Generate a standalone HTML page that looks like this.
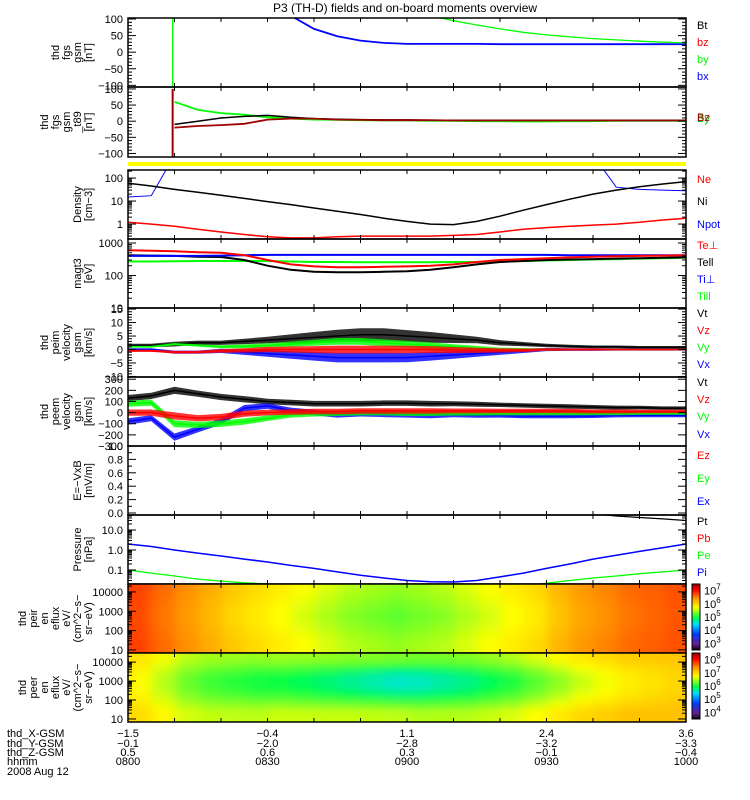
<!DOCTYPE html>
<html><head><meta charset="utf-8"><style>
body{margin:0;background:#fff}
svg{display:block;font-family:"Liberation Sans",sans-serif}
text{font-size:11px}
</style></head><body>
<svg id="c" width="750" height="800" viewBox="0 0 750 800" xmlns="http://www.w3.org/2000/svg">
<text x="405" y="12" text-anchor="middle" style="font-size:12px">P3 (TH-D) fields and on-board moments overview</text>
</svg>
<script>
// ---- data (time in minutes after 0800, step 5 min) ----
const T=[0,5,10,15,20,25,30,35,40,45,50,55,60,65,70,75,80,85,90,95,100,105,110,115,120];
const fgsBx=[null,null,null,null,null,null,null,110,70,48,35,28,25,25,25,25,24,24,24,24,24,24,24,24,24];
const fgsBy=[null,null,300,300,300,300,300,300,300,300,300,300,300,110,95,82,70,60,52,46,41,37,33,30,28];
const spikeT=[9.6];
const fglBy=[null,null,60,35,25,20,12,8,5,4,3,2,2,1,1,0,0,-1,-1,0,0,1,1,1,1];
const fglBz=[null,null,-20,-15,-12,-8,5,8,8,5,4,3,3,3,2,2,2,2,2,2,2,2,2,2,2];
const fglBt=[null,null,-10,0,10,15,18,12,8,6,5,4,4,3,3,3,3,3,3,3,3,3,3,3,3];
const densNi=[60,45,32,24,18,13,9.5,7,5,3.6,2.6,1.8,1.3,1.0,0.95,1.3,2.2,4,7,12,20,30,42,55,70];
const densNe=[1.2,1.0,0.8,0.6,0.45,0.35,0.28,0.25,0.25,0.28,0.3,0.3,0.3,0.3,0.32,0.35,0.45,0.6,0.7,0.8,0.9,1.0,1.2,1.5,1.8];
const densNpot=[15,17,999,999,999,999,999,999,999,999,999,999,999,999,999,999,999,999,999,999,999,40,32,30,28];
const tempTeperp=[600,580,560,520,500,420,300,220,190,180,180,185,190,200,220,260,300,320,340,360,380,390,400,410,420];
const tempTepar=[420,410,400,380,370,300,200,150,130,125,125,130,135,150,180,220,260,280,300,310,320,330,340,350,360];
const tempTiperp=[400,400,400,400,410,420,430,430,430,430,430,430,430,430,430,430,430,430,430,420,420,420,420,420,420];
const tempTipar=[270,270,275,280,280,280,280,270,260,260,255,255,255,255,260,260,270,280,290,300,310,320,330,340,350];
const esaVt=[1.5,1.5,2,2.5,2.5,3,3.5,4,4.5,5,5.5,5.5,5,4.5,4,3.5,2.5,2,1.5,1.2,1,1,0.8,0.8,0.8];
const esaVtAmp=[0.6,0.6,0.9,0.8,0.8,1,1.2,1.6,2,2.3,2.4,2.4,2.2,2,1.6,1.2,1,0.8,0.6,0.6,0.5,0.5,0.5,0.5,0.5];
const esaVy=[1,1,2,1.5,1,1.2,1.5,2,2.5,3,3,2.5,2,1.5,1,0.5,0,0,0,0,0,0,0,0,0];
const esaVz=[-0.5,-0.5,-1,-1,-0.5,-0.3,0,0,0,0,0,0,0,0,-0.2,-0.3,-0.3,-0.3,0,0,0,0,0,0,0];
const esaVx=[0,0,-1,-1,-0.5,-1,-1.5,-2,-2.5,-3,-3,-3,-3,-2.5,-2,-1.5,-1,-0.5,0,0,0,0,0,0,0];
const esaAmp=[0.5,0.5,0.6,0.6,0.8,1,1.2,1.4,1.6,1.8,1.8,1.8,1.7,1.6,1.4,1.2,1,0.8,0.6,0.5,0.5,0.4,0.4,0.4,0.4];
const peemVt=[130,150,200,170,140,120,100,90,80,80,80,85,85,80,80,75,70,65,60,55,50,45,45,40,40];
const peemVz=[0,0,-30,-50,-40,-10,0,5,10,10,15,15,15,15,15,15,15,15,15,15,10,10,10,10,10];
const peemVy=[80,90,-100,-110,-100,-80,-50,-20,-10,-5,0,0,-5,-5,-5,-5,-5,-5,-5,-5,-5,-5,-5,-5,-5];
const peemVx=[-80,-50,-220,-150,-80,40,60,20,0,-20,-10,-15,-20,-25,-20,-25,-25,-30,-30,-30,-30,-25,-25,-25,-25];
const peemAmp=[28,28,32,28,28,28,25,25,25,25,25,25,25,25,22,22,20,20,20,20,18,18,16,16,16];
const presPi=[2,1.5,1.0,0.7,0.5,0.35,0.25,0.17,0.12,0.08,0.055,0.04,0.03,0.026,0.025,0.03,0.045,0.07,0.12,0.2,0.35,0.55,0.85,1.3,2];
const presPe=[0.1,0.07,0.05,0.035,0.028,0.023,0.02,0.015,0.012,0.01,0.01,0.01,0.01,0.01,0.01,0.01,0.012,0.016,0.022,0.03,0.04,0.05,0.065,0.08,0.1];
const presPt=[null,null,null,null,null,null,null,null,null,null,null,null,null,null,null,null,null,null,null,80,65,50,42,36,30];
const ionBase=[6.75,6.7,6.55,6.4,6.25,6.1,6.0,5.9,5.8,5.7,5.6,5.55,5.5,5.55,5.6,5.7,5.8,5.9,6.0,6.2,6.35,6.45,6.55,6.6,6.65];
const ionRowAdj=[0.05,0,-0.05,-0.1,-0.1,-0.05,0,0.05];
const eleBase=[7.0,6.9,6.7,6.5,6.4,6.35,6.3,6.3,6.25,6.2,6.15,6.1,6.05,6.05,6.1,6.15,6.25,6.35,6.5,6.65,6.8,6.9,7.0,7.05,7.1];
const eleRowAdj=[0.6,0.3,0,-0.2,-0.3,-0.2,0.1,0.4];
const rowsLogE=[1.2,1.6,2.0,2.4,2.8,3.2,3.6,4.0,4.4];
const posX=["-1.5","-0.4","1.1","2.4","3.6"];
const posY=["-0.1","-2.0","-2.8","-3.2","-3.3"];
const posZ=["0.5","0.6","0.3","-0.1","-0.4"];
const hhmm=["0800","0830","0900","0930","1000"];

const NS="http://www.w3.org/2000/svg";
const svg=document.getElementById('c');
const X0=128,X1=686;
const xs=t=>X0+(X1-X0)*t/120;
function el(tag,attrs,parent){const e=document.createElementNS(NS,tag);for(const k in attrs)e.setAttribute(k,attrs[k]);(parent||svg).appendChild(e);return e;}
function lin(top,bot,vTop,vBot){return v=>top+(v-vTop)/(vBot-vTop)*(bot-top);}
function logs(top,bot,lTop,lBot){return v=>top+(Math.log10(v)-lTop)/(lBot-lTop)*(bot-top);}
let clipId=0;
function panel(name,top,bot){
  const g=el('g',{});
  
  
  const id='cp'+(clipId++);
  const cp=el('clipPath',{id:id},g);el('rect',{x:X0,y:top,width:X1-X0,height:bot-top},cp);
  const inner=el('g',{'clip-path':'url(#'+id+')'},g);
  return {g,inner,top,bot};
}
function frame(p){
  el('rect',{x:X0,y:p.top,width:X1-X0,height:p.bot-p.top,fill:'none',stroke:'#000','stroke-width':1.5},p.g);
  for(let t=10;t<120;t+=10){const x=xs(t);
    el('line',{x1:x,x2:x,y1:p.top,y2:p.top+4,stroke:'#000'},p.g);
    el('line',{x1:x,x2:x,y1:p.bot,y2:p.bot-4,stroke:'#000'},p.g);}
}
function yTicks(p,ys,labels,vals,minor){
  vals.forEach((v,i)=>{const y=ys(v);
    el('line',{x1:X0,x2:X0+8,y1:y,y2:y,stroke:'#000'},p.g);
    el('line',{x1:X1,x2:X1-8,y1:y,y2:y,stroke:'#000'},p.g);
    const t=el('text',{x:X0-5,y:y+4,'text-anchor':'end'},p.g);t.textContent=labels[i];
    
    });
  (minor||[]).forEach(v=>{const y=ys(v);
    el('line',{x1:X0,x2:X0+4,y1:y,y2:y,stroke:'#000'},p.g);
    el('line',{x1:X1,x2:X1-4,y1:y,y2:y,stroke:'#000'},p.g);});
}
function logMinor(a,b){const r=[];for(let d=a;d<b;d++)for(let k=2;k<10;k++)r.push(k*Math.pow(10,d));return r;}
function ylabel(p,lines){
  const cy=(p.top+p.bot)/2;const n=lines.length;
  lines.forEach((s,i)=>{const x=92-(n-1-i)*11;
    const t=el('text',{x:x,y:cy,'text-anchor':'middle',transform:'rotate(-90 '+x+' '+cy+')'},p.g);t.textContent=s;
    
    });
}
function legend(items){items.forEach(([s,c,y])=>{const t=el('text',{x:697,y:y,fill:c});t.textContent=s;
  
  });}
function line(p,ys,vals,color,w){
  let segs=[],cur=[];
  vals.forEach((v,i)=>{if(v===null){if(cur.length)segs.push(cur);cur=[];}else cur.push(xs(T[i]).toFixed(1)+','+ys(v).toFixed(1));});
  if(cur.length)segs.push(cur);
  segs.forEach(s=>{const e=el('polyline',{points:s.join(' '),fill:'none',stroke:color,'stroke-width':w||1.3},p.inner);
    
    });
}
function band(p,ys,vals,amp,color){
  const up=vals.map((v,i)=>xs(T[i]).toFixed(1)+','+ys(v+amp[i]).toFixed(1));
  const dn=vals.map((v,i)=>xs(T[i]).toFixed(1)+','+ys(v-amp[i]).toFixed(1)).reverse();
  const e=el('polygon',{points:up.concat(dn).join(' '),fill:color,'fill-opacity':0.8},p.inner);
  
  
  line(p,ys,vals,color,1.5);
}
// panel 1 fgs
let p=panel('fgs-panel',18,87);let ys=lin(18,87,103,-105);
line(p,ys,fgsBx,'#0000ff',1.8);line(p,ys,fgsBy,'#00ff00',1.3);
spikeT.forEach(t=>el('line',{x1:xs(t),x2:xs(t),y1:87,y2:18,stroke:'#00ff00','stroke-width':1.3},p.inner));
frame(p);yTicks(p,ys,['100','50','0','\u221250','\u2212100'],[100,50,0,-50,-100],[90,80,70,60,40,30,20,10,-10,-20,-30,-40,-60,-70,-80,-90]);
ylabel(p,['thd','fgs','gsm','[nT]']);
legend([['Bt','#000',29],['bz','#ff0000',46],['by','#00ff00',63],['bx','#0000ff',80]]);
// panel 2 fgl
p=panel('fgl-panel',87,157);ys=lin(87,157,106,-111);
line(p,ys,fglBy,'#00ff00',1.8);line(p,ys,fglBt,'#000',1.5);line(p,ys,fglBz,'#a00000',1.8);
spikeT.forEach(t=>el('line',{x1:xs(t),x2:xs(t),y1:ys(100),y2:ys(-110),stroke:'#a00000','stroke-width':2},p.inner));
frame(p);yTicks(p,ys,['100','50','0','\u221250','\u2212100'],[100,50,0,-50,-100],[90,80,70,60,40,30,20,10,-10,-20,-30,-40,-60,-70,-80,-90]);
ylabel(p,['thd','fgs','gsm','_t89','[nT]']);
legend([['By','#00c000',122],['Bz','#a00000',121]]);
// yellow bar
const yb=el('rect',{x:X0,y:162,width:X1-X0,height:4,fill:'#ffff00'});

// density
p=panel('density-panel',170,239);ys=logs(170,239,2.35,-0.65);
line(p,ys,densNpot,'#0000ff',1);line(p,ys,densNi,'#000',1.5);line(p,ys,densNe,'#ff0000',1.5);
frame(p);yTicks(p,ys,['100','10','1'],[100,10,1],logMinor(-1,3).filter(v=>v<220&&v>0.22));
ylabel(p,['Density','[cm\u22123]']);
legend([['Ne','#ff0000',183],['Ni','#000',205],['Npot','#0000ff',228]]);
// temps
p=panel('temperature-panel',239,308);ys=logs(239,308,3.123,1.0);
line(p,ys,tempTipar,'#00ff00',2);line(p,ys,tempTepar,'#000',2);line(p,ys,tempTiperp,'#0000ff',2);line(p,ys,tempTeperp,'#ff0000',2);
frame(p);yTicks(p,ys,['1000','100','10'],[1000,100,10],logMinor(1,4).filter(v=>v<1320));
ylabel(p,['magt3','[eV]']);
legend([['Te\u22a5','#ff0000',249],['Tell','#000',266],['Ti\u22a5','#0000ff',283],['Till','#00ff00',300]]);
// velocity esa
p=panel('peim-velocity-panel',308,377);ys=lin(308,377,15.4,-10.2);
band(p,ys,esaVt,esaVtAmp,'#000');band(p,ys,esaVx,esaAmp,'#0000ff');band(p,ys,esaVy,esaAmp.map(a=>a*0.7),'#00ff00');band(p,ys,esaVz,esaAmp.map(a=>a*0.8),'#ff0000');
frame(p);yTicks(p,ys,['15','10','5','0','\u22125','\u221210'],[15,10,5,0,-5,-10],[14,13,12,11,9,8,7,6,4,3,2,1,-1,-2,-3,-4,-6,-7,-8,-9]);
ylabel(p,['thd','peim','velocity','gsm','[km/s]']);
legend([['Vt','#000',317],['Vz','#ff0000',334],['Vy','#00ff00',351],['Vx','#0000ff',368]]);
// velocity peem
p=panel('peem-velocity-panel',377,446);ys=lin(377,446,320,-300);
band(p,ys,peemVt,peemAmp,'#000');band(p,ys,peemVx,peemAmp,'#0000ff');band(p,ys,peemVy,peemAmp,'#00ff00');band(p,ys,peemVz,peemAmp,'#ff0000');
frame(p);yTicks(p,ys,['300','200','100','0','\u2212100','\u2212200','\u2212300'],[300,200,100,0,-100,-200,-300],[]);
ylabel(p,['thd','peem','velocity','gsm','[km/s]']);
legend([['Vt','#000',386],['Vz','#ff0000',403],['Vy','#00ff00',420],['Vx','#0000ff',438]]);
// E field
p=panel('efield-panel',446,515);ys=lin(446,515,1.0,-0.03);
frame(p);yTicks(p,ys,['1.0','0.8','0.6','0.4','0.2','0.0'],[1,0.8,0.6,0.4,0.2,0],[0.9,0.7,0.5,0.3,0.1]);
ylabel(p,['E=\u2212VxB','[mV/m]']);
legend([['Ez','#ff0000',459],['Ey','#00ff00',482],['Ex','#0000ff',505]]);
// pressure
p=panel('pressure-panel',515,584);ys=logs(515,584,1.75,-1.7);
line(p,ys,presPi,'#0000ff',1.5);line(p,ys,presPe,'#00ff00',1.3);line(p,ys,presPt,'#000',1.3);
frame(p);yTicks(p,ys,['10.0','1.0','0.1'],[10,1,0.1],logMinor(-2,2).filter(v=>v<56&&v>0.02));
ylabel(p,['Pressure','[nPa]']);
legend([['Pt','#000',525],['Pb','#ff0000',542],['Pe','#00ff00',559],['Pi','#0000ff',576]]);
// colormap
const cstops=[[0,[0,0,0]],[0.1,[100,30,140]],[0.25,[0,60,255]],[0.4,[0,220,255]],[0.5,[0,255,70]],[0.66,[255,255,0]],[0.8,[255,140,0]],[0.92,[255,0,0]],[1,[160,0,0]]];
function cmap(f){f=Math.max(0,Math.min(1,f));for(let i=1;i<cstops.length;i++){if(f<=cstops[i][0]){const a=cstops[i-1],b=cstops[i];const u=(f-a[0])/(b[0]-a[0]);const c=a[1].map((v,k)=>Math.round(v+(b[1][k]-v)*u));return 'rgb('+c.join(',')+')';}}return 'rgb(160,0,0)';}
function spec(name,top,bot,lTop,lBot,base,adj,vmin,vmax,labs,cbLabs,lines){
  const p=panel(name,top,bot);const ys=logs(top,bot,lTop,lBot);
  const blurId='bl'+name;const f=el('filter',{id:blurId,x:'-5%',y:'-5%',width:'110%',height:'110%'},p.g);
  el('feGaussianBlur',{stdDeviation:'6 4'},f);
  const cg=el('g',{filter:'url(#'+blurId+')'},p.inner);
  for(let c=0;c<T.length;c++)for(let r=0;r<adj.length;r++){
    const x0=xs(T[c]-2.5-1),x1=xs(T[c]+2.5+1);const yTop=r===adj.length-1?top-10:ys(Math.pow(10,rowsLogE[r+1]));const yBot=r===0?bot+10:ys(Math.pow(10,rowsLogE[r]));
    const rc=el('rect',{x:x0-6,y:yTop,width:x1-x0+12,height:yBot-yTop+1,fill:cmap((base[c]+adj[r]*(1-Math.abs(c-12)/14)-vmin)/(vmax-vmin))},cg);
    
    }
  frame(p);yTicks(p,ys,labs,[10000,1000,100,10],logMinor(1,5).filter(v=>v<Math.pow(10,lTop)));
  ylabel(p,lines);
  const cb=el('g',{});
  const h=bot-top-3;for(let i=0;i<40;i++){el('rect',{x:692,y:top+h*i/40,width:8,height:h/40+0.5,fill:cmap(1-i/40)},cb);}
  el('rect',{x:692,y:top,width:8,height:h,fill:'none',stroke:'#000'},cb);
  cbLabs.forEach((e,i)=>{const y=top+h*(i+0.5)/cbLabs.length+2;const t=el('text',{x:704,y:y+2},cb);t.textContent='10';
    const s=el('tspan',{dy:-5,style:'font-size:8px'},t);s.textContent=e;});
}
spec('ion-spectrogram',584,653,4.41,0.84,ionBase,ionRowAdj,3,7.3,['10000','1000','100','10'],['7','6','5','4','3'],['thd','peir','en','eflux','eV/','(cm^2\u2212s\u2212','sr\u2212eV)']);
spec('electron-spectrogram',653,722,4.48,0.84,eleBase,eleRowAdj,3.8,8.4,['10000','1000','100','10'],['8','7','6','5','4'],['thd','peer','en','eflux','eV/','(cm^2\u2212s\u2212','sr\u2212eV)']);
// bottom labels
const rows=[['thd_X-GSM',posX,737],['thd_Y-GSM',posY,747],['thd_Z-GSM',posZ,756],['hhmm',hhmm,765]];
rows.forEach(([lab,vals,y])=>{const t=el('text',{x:7,y:y});t.textContent=lab;
  
  vals.forEach((v,i)=>{const tt=el('text',{x:X0+(X1-X0)*i/4,y:y,'text-anchor':'middle'});tt.textContent=v.replace('-','\u2212');
    });});
const d=el('text',{x:7,y:775});d.textContent='2008 Aug 12';
</script>
</body></html>
